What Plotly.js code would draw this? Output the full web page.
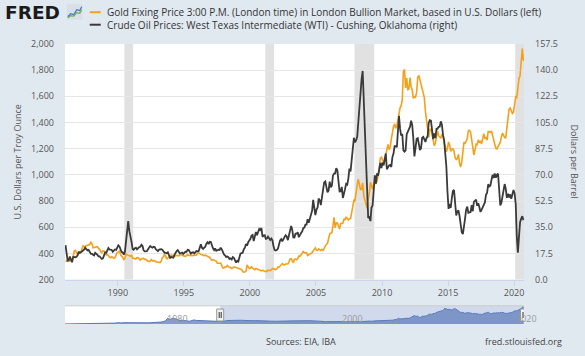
<!DOCTYPE html>
<html><head><meta charset="utf-8">
<script src="https://cdn.plot.ly/plotly-3.0.1.min.js"></script>
<style>html,body{margin:0;padding:0;background:#e1e9f0;} #chart{width:585px;height:356px;}</style>
</head><body><div id="chart"></div>
<script>
// ---- DATA (monthly, plotted mid-month, starting Jan 1986) ----
const firstYear = 1986;
const goldUSD = [
345,339,346,340,342,343,348,376,418,423,398,391,
408,401,409,438,460,450,450,461,460,465,467,486,
477,442,444,452,451,451,438,431,413,406,420,419,
404,388,390,384,371,367,375,365,362,367,394,409,
410,417,393,374,369,352,362,395,389,380,381,378,
384,364,363,358,357,367,368,356,349,359,360,361,
354,354,345,338,337,341,353,343,345,344,335,334,
329,330,330,342,367,372,392,379,355,365,374,383,
387,382,384,377,381,386,385,380,391,389,384,379,
379,377,382,391,385,387,386,383,383,383,386,387,
400,405,396,393,392,385,383,387,383,381,378,369,
355,347,352,344,344,341,324,324,323,325,306,289,
289,297,296,308,299,292,293,284,289,296,294,291,
287,287,286,282,277,262,256,257,265,311,293,283,
285,300,286,280,275,285,282,275,273,270,266,272,
266,262,263,261,272,270,268,273,283,283,276,275,
282,296,294,303,315,322,314,310,319,317,319,333,
357,359,340,328,355,356,351,360,379,379,390,407,
414,405,406,404,384,392,398,400,406,420,439,442,
424,423,434,429,422,431,424,438,456,470,476,510,
549,555,557,610,676,596,633,632,598,586,627,629,
631,665,655,679,667,655,665,665,712,754,806,803,
889,922,968,909,888,889,939,839,800,780,745,816,
858,943,924,890,928,946,934,949,996,1043,1127,1134,
1118,1095,1113,1148,1205,1232,1193,1215,1271,1343,1370,1391,
1356,1372,1424,1474,1512,1529,1572,1790,1805,1665,1739,1652,
1656,1743,1674,1650,1585,1596,1594,1630,1745,1760,1722,1685,
1671,1628,1592,1485,1414,1343,1286,1347,1349,1316,1276,1222,
1244,1301,1336,1299,1287,1279,1311,1296,1239,1223,1176,1201,
1251,1227,1179,1198,1199,1182,1131,1117,1125,1156,1086,1060,
1097,1200,1246,1242,1260,1276,1337,1341,1326,1267,1238,1152,
1192,1234,1231,1267,1246,1260,1236,1283,1315,1280,1284,1265,
1331,1331,1325,1335,1304,1282,1238,1202,1198,1215,1220,1250,
1291,1320,1301,1286,1284,1359,1413,1500,1511,1495,1470,1480,
1560,1597,1592,1700,1735,1760,1890,1965,1870
];
const wtiUSD = [
22.93,15.46,12.61,12.84,15.38,13.43,11.59,15.10,14.87,14.90,15.22,16.11,
18.65,17.75,18.30,18.68,19.44,20.07,21.34,20.31,19.53,19.86,18.85,17.28,
17.13,16.80,16.20,17.86,17.42,16.53,15.50,15.52,14.54,13.77,14.14,16.38,
18.02,17.94,19.48,21.07,20.12,20.05,19.78,18.58,19.59,20.10,19.86,21.10,
22.86,22.11,20.39,18.43,18.20,16.70,18.45,27.31,33.51,39.00,32.33,27.28,
25.23,20.48,19.90,20.83,21.23,20.19,21.40,21.69,21.89,23.23,22.46,19.50,
18.79,19.01,18.92,20.23,20.98,22.39,21.78,21.34,21.88,21.69,20.34,19.41,
19.03,20.09,20.32,20.25,19.95,19.09,17.89,18.01,17.50,18.15,16.61,14.52,
15.03,14.78,14.68,16.42,17.89,19.06,19.66,18.38,17.45,17.72,18.07,17.16,
18.04,18.57,18.54,19.90,19.74,18.45,17.33,18.02,18.23,17.43,17.99,19.03,
18.86,19.09,21.33,23.50,21.17,20.42,21.30,21.90,23.97,24.88,23.71,25.23,
25.13,22.18,20.97,19.70,20.82,19.26,19.66,19.95,19.80,21.33,20.19,18.33,
16.72,16.06,15.12,15.35,14.91,13.72,14.17,13.47,15.03,14.46,13.00,11.35,
12.52,12.01,14.68,17.31,17.72,17.92,20.10,21.28,23.80,22.69,25.00,26.10,
27.26,29.37,29.84,25.72,28.79,31.82,29.70,31.26,33.88,33.11,34.42,28.44,
29.59,29.61,27.25,27.49,28.63,27.60,26.43,27.37,26.20,22.17,19.64,19.39,
19.72,20.72,24.53,26.18,27.04,25.52,26.97,28.39,29.66,28.84,26.35,29.46,
32.95,35.83,33.51,28.17,28.11,30.66,30.76,31.57,28.31,30.34,31.11,32.13,
34.31,34.69,36.74,36.75,40.28,38.03,40.78,44.90,45.94,53.28,48.47,43.15,
46.84,48.15,54.19,52.98,49.83,56.35,58.99,64.98,65.59,62.26,58.32,59.41,
65.49,61.63,62.69,69.44,70.84,70.95,74.41,73.04,63.80,58.89,59.08,61.96,
54.51,59.28,60.44,63.98,63.45,67.49,74.12,72.36,79.92,85.80,94.77,91.69,
92.97,95.39,105.45,112.58,125.40,134.00,139.50,116.67,104.11,76.61,57.31,41.12,
41.71,39.09,47.94,49.65,59.03,69.64,64.15,71.05,69.41,75.72,77.99,74.47,
78.33,76.39,81.20,84.29,73.74,75.34,76.32,76.60,75.24,81.89,84.25,89.15,
89.17,88.58,102.86,109.53,100.90,96.26,97.30,86.33,85.52,86.32,97.16,98.56,
100.27,102.20,106.16,103.32,94.66,82.30,87.90,94.13,94.51,89.49,86.53,87.86,
94.76,95.31,92.94,92.02,94.51,95.77,104.67,106.57,106.29,100.54,93.86,97.63,
94.62,100.82,100.80,102.07,102.18,105.79,103.59,96.54,93.21,84.40,75.79,59.29,
47.22,50.58,47.82,54.45,59.27,59.82,50.90,42.87,45.48,46.22,42.44,37.19,
31.68,30.32,37.55,40.75,46.71,48.76,44.65,44.72,45.18,49.78,45.66,51.97,
52.50,53.47,49.33,51.06,48.48,45.18,46.63,48.04,49.82,51.58,56.64,57.88,
63.70,62.23,62.73,66.25,69.98,67.87,70.98,68.06,70.23,70.75,56.96,49.52,
51.38,54.95,58.15,63.86,60.83,54.66,57.35,54.81,56.95,53.96,57.03,59.88,
57.52,50.54,29.21,18.00,28.56,38.31,40.71,42.34,39.63
];
// Navigator: gold history before 1986 (quarterly, read from the small overview)
const navEarlyDates = [
'1968-04-01','1968-07-01','1968-10-01',
'1969-01-01','1969-04-01','1969-07-01','1969-10-01',
'1970-01-01','1970-04-01','1970-07-01','1970-10-01',
'1971-01-01','1971-04-01','1971-07-01','1971-10-01',
'1972-01-01','1972-04-01','1972-07-01','1972-10-01',
'1973-01-01','1973-04-01','1973-07-01','1973-10-01',
'1974-01-01','1974-04-01','1974-07-01','1974-10-01',
'1975-01-01','1975-04-01','1975-07-01','1975-10-01',
'1976-01-01','1976-04-01','1976-07-01','1976-10-01',
'1977-01-01','1977-04-01','1977-07-01','1977-10-01',
'1978-01-01','1978-04-01','1978-07-01','1978-10-01',
'1979-01-01','1979-04-01','1979-07-01','1979-10-01',
'1980-01-01','1980-04-01','1980-07-01','1980-10-01',
'1981-01-01','1981-04-01','1981-07-01','1981-10-01',
'1982-01-01','1982-04-01','1982-07-01','1982-10-01',
'1983-01-01','1983-04-01','1983-07-01','1983-10-01',
'1984-01-01','1984-04-01','1984-07-01','1984-10-01',
'1985-01-01','1985-04-01','1985-07-01','1985-10-01'];
const navEarlyGold = [
38,39.5,39.5, 42.5,43.5,41.8,40, 35,35.9,35.3,37.5, 37.9,39,40.9,42.5,
46,49,65.7,64.9, 65.1,90.5,120,100.1, 129.2,172.2,143,154, 176,169,166.7,142.9,
131.6,128.4,117.7,123.2, 132.3,149.2,143.4,158.8, 173.2,170.9,188.9,227.2,
227.3,245.3,296.5,391.7, 675,517,644,661, 557,495,409,437, 384,350,339,422,
481,433,423,394, 370,381,348,340, 303,325,317,326];
const recessionStart = ['1990-07-01','2001-03-01','2007-12-01','2020-02-01'];
const recessionEnd   = ['1991-03-01','2001-11-01','2009-06-01','2020-10-01'];
const rangeStart = '1986-01-01', rangeEnd = '2020-10-01', navRangeStart = '1968-04-01';
const navLabelYears = ['1980','2000','2020'];
const goldName = 'Gold Fixing Price 3:00 P.M. (London time) in London Bullion Market, based in U.S. Dollars (left)';
const oilName = 'Crude Oil Prices: West Texas Intermediate (WTI) - Cushing, Oklahoma (right)';

// ---- build ----
const dates = goldUSD.map((_, i) => {
  const y = firstYear + Math.floor(i / 12), m = (i % 12) + 1;
  return y + '-' + (m < 10 ? '0' + m : m) + '-15';
});
const W = 585, H = 356, L = 65.3, R = 61, T = 44.3, B = 31.5;
const pw = W - L - R, ph = H - T - B;
const px = x => (x - L) / pw, py = y => (H - B - y) / ph;
const FONT = 'Open Sans, sans-serif';
const goldColor = '#F5A01A', oilColor = '#3a3a3a';

const traces = [
  {x: dates, y: goldUSD, name: goldName, type: 'scatter', mode: 'lines', xaxis: 'x', yaxis: 'y',
   line: {color: goldColor, width: 1.6}},
  {x: dates, y: wtiUSD, name: oilName, type: 'scatter', mode: 'lines', xaxis: 'x', yaxis: 'y3',
   line: {color: oilColor, width: 1.8}},
  {x: navEarlyDates.concat(dates), y: navEarlyGold.concat(goldUSD), name: 'navigator', type: 'scatter',
   mode: 'lines', xaxis: 'x2', yaxis: 'y2', fill: 'tozeroy', fillcolor: 'rgb(136,158,201)',
   line: {color: '#5578b8', width: 1}, hoverinfo: 'skip'}
];

const shapes = recessionStart.map((s, i) => ({
  type: 'rect', xref: 'x', yref: 'y domain', x0: s, x1: recessionEnd[i], y0: 0, y1: 1,
  fillcolor: '#e1e1e1', line: {width: 0}, layer: 'below'}));
shapes.push({type: 'rect', xref: 'x2', yref: 'y2 domain', x0: rangeStart, x1: rangeEnd, y0: 0, y1: 1,
  fillcolor: 'rgba(102,133,194,0.3)', line: {width: 0}, layer: 'above'});
shapes.push({type: 'line', xref: 'x2 domain', yref: 'y2 domain', x0: 0, x1: 1, y0: 1, y1: 1,
  line: {color: '#cccccc', width: 1}, layer: 'above'});
// navigator handles
[rangeStart, rangeEnd].forEach(d => {
  shapes.push({type: 'rect', xref: 'x2', xsizemode: 'pixel', xanchor: d, x0: -3.5, x1: 3.5,
    yref: 'paper', y0: py(321.5), y1: py(309.5), fillcolor: '#f2f2f2', line: {color: '#999', width: 1}, layer: 'above'});
  [-1, 1].forEach(o => shapes.push({type: 'line', xref: 'x2', xsizemode: 'pixel', xanchor: d, x0: o, x1: o,
    yref: 'paper', y0: py(318.5), y1: py(312.5), line: {color: '#333', width: 1}, layer: 'above'}));
});
shapes.push({type: 'line', xref: 'paper', yref: 'paper', x0: px(90), x1: px(101), y0: py(12.5), y1: py(12.5),
  line: {color: goldColor, width: 2}, layer: 'above'});
shapes.push({type: 'line', xref: 'paper', yref: 'paper', x0: px(90), x1: px(101), y0: py(25), y1: py(25),
  line: {color: oilColor, width: 2}, layer: 'above'});

const annotations = [
  {text: '<b>FRED</b>', xref: 'paper', yref: 'paper', x: px(3), y: py(12.5), xanchor: 'left', yanchor: 'middle',
   showarrow: false, font: {family: 'DejaVu Sans', size: 18.5, color: '#1b1b1b'}},
  {text: goldName, xref: 'paper', yref: 'paper', x: px(105), y: py(12.5), xanchor: 'left', yanchor: 'middle',
   showarrow: false, font: {family: FONT, size: 10, color: '#333'}},
  {text: oilName, xref: 'paper', yref: 'paper', x: px(105), y: py(25), xanchor: 'left', yanchor: 'middle',
   showarrow: false, font: {family: FONT, size: 10, color: '#333'}},
  {text: 'Dollars per Barrel', xref: 'paper', yref: 'paper', x: px(574), y: py(162), xanchor: 'center', yanchor: 'middle',
   textangle: 90, showarrow: false, font: {family: FONT, size: 9, color: '#555'}},
  {text: 'Sources: EIA, IBA', xref: 'paper', yref: 'paper', x: px(301), y: py(342.5), xanchor: 'center', yanchor: 'middle',
   showarrow: false, font: {family: FONT, size: 9, color: '#444'}},
  {text: 'fred.stlouisfed.org', xref: 'paper', yref: 'paper', x: px(564), y: py(342.5), xanchor: 'right', yanchor: 'middle',
   showarrow: false, font: {family: FONT, size: 9, color: '#444'}}
];
navLabelYears.forEach(yr => annotations.push({text: yr, xref: 'x2', yref: 'paper', x: yr + '-01-01', xshift: -3,
  y: py(318.5), xanchor: 'left', yanchor: 'middle', showarrow: false, font: {family: FONT, size: 9, color: '#999'}}));

const icon = "data:image/svg+xml;utf8," + encodeURIComponent(
  "<svg xmlns='http://www.w3.org/2000/svg' width='16' height='16'><rect width='16' height='16' fill='#d9dfe6'/>" +
  "<polyline points='1,13 4,10 7,11 10,6 13,7 15,3' fill='none' stroke='#4a7ebb' stroke-width='1.3'/>" +
  "<polyline points='1,14 4,12 7,12.5 10,9 13,9.5 15,6' fill='none' stroke='#6aaa4f' stroke-width='1.2'/></svg>");

const mainBottom = py(280);
const layout = {
  width: W, height: H, margin: {l: L, r: R, t: T, b: B, pad: 0},
  paper_bgcolor: '#e1e9f0', plot_bgcolor: '#ffffff', showlegend: false,
  font: {family: FONT, size: 9, color: '#555'},
  xaxis: {domain: [0, 1], anchor: 'y', type: 'date', range: [rangeStart, rangeEnd],
    tick0: '1990-01-01', dtick: 'M60', tickformat: '%Y', ticks: 'outside', ticklen: 5, tickcolor: '#ccd6eb',
    showline: true, linecolor: '#ccd6eb', showgrid: false, zeroline: false,
    tickfont: {family: FONT, size: 9, color: '#555'}, fixedrange: true},
  yaxis: {domain: [mainBottom, 1], anchor: 'x', range: [200, 2000], tick0: 0, dtick: 200, tickformat: ',',
    gridcolor: '#e6e6e6', zeroline: false, showline: false, ticks: '', ticklabelstandoff: 10,
    tickfont: {family: FONT, size: 9, color: '#555'},
    title: {text: 'U.S. Dollars per Troy Ounce', font: {family: FONT, size: 9, color: '#555'}, standoff: 7}},
  yaxis3: {overlaying: 'y', side: 'right', anchor: 'x', range: [0, 157.5], tick0: 0, dtick: 17.5, tickformat: '.1f',
    showgrid: false, zeroline: false, showline: false, ticks: '', ticklabelstandoff: 10,
    tickfont: {family: FONT, size: 9, color: '#555'}},
  xaxis2: {domain: [0, 1], anchor: 'y2', type: 'date', range: [navRangeStart, rangeEnd],
    showticklabels: false, showgrid: false, zeroline: false, showline: false, ticks: '', fixedrange: true},
  yaxis2: {domain: [0, py(306.3)], anchor: 'x2', range: [30, 2060], visible: false, fixedrange: true},
  shapes: shapes, annotations: annotations,
  images: [{source: icon, xref: 'paper', yref: 'paper', x: px(67), y: py(4), sizex: 16 / pw, sizey: 16 / ph,
    xanchor: 'left', yanchor: 'top', sizing: 'stretch', layer: 'above'}]
};
Plotly.newPlot('chart', traces, layout, {displayModeBar: false, staticPlot: true});
</script></body></html>
